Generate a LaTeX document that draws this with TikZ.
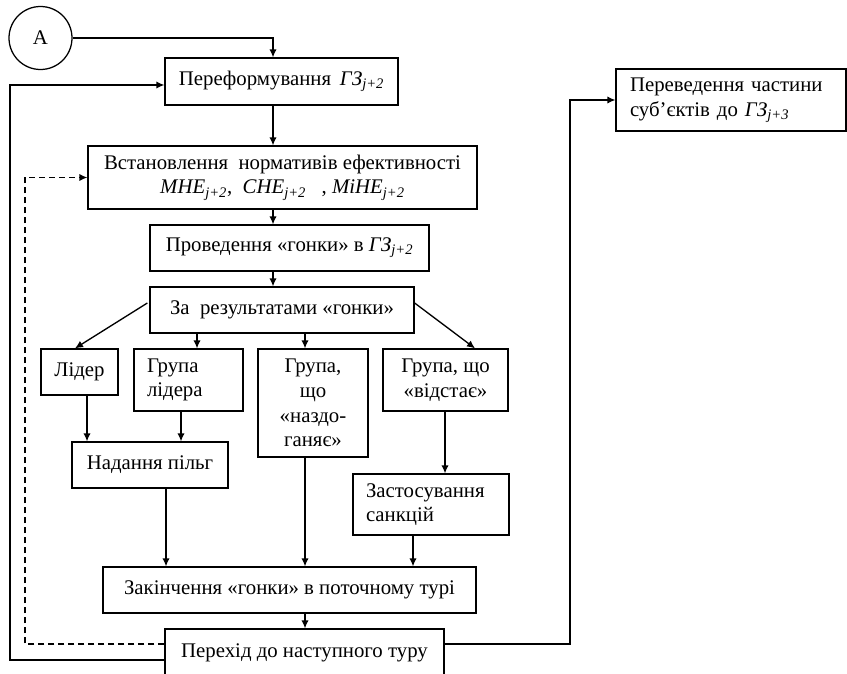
\documentclass[tikz,border=0pt]{standalone}
\usepackage{fontspec}
\setmainfont{Liberation Serif}
\usetikzlibrary{arrows.meta}
\newcommand\mysub[1]{\textsubscript{\itshape #1}}
\begin{document}
\begin{tikzpicture}[x=0.75pt,y=-0.75pt,
  box/.style={draw, line width=0.95pt, inner sep=0pt, align=center,
    font=\fontsize{15.6pt}{18.5pt}\selectfont},
  lbox/.style={box, align=left},
  arr/.style={line width=1pt, -{Latex[length=6pt,width=5.5pt]}}]
\useasboundingbox (0,0) rectangle (847,674);
\clip (0,0) rectangle (847,674);
\node[box, circle, minimum size=47.25pt] (A) at (40.5,38) {А};
\node[box, minimum width=174.75pt, minimum height=35.25pt] (P1) at (281.5,81.5)
  {Переформування \,\textit{ГЗ}\mysub{j+2}};
\node[box, minimum width=291.75pt, minimum height=47.25pt] (P2) at (282.5,177.5)
  {Встановлення \ нормативів ефективності\\
   \textit{МНЕ}\mysub{j+2}, \ \textit{СНЕ}\mysub{j+2} \ \ , \textit{МіНЕ}\mysub{j+2}};
\node[box, minimum width=209.25pt, minimum height=34.5pt] (P3) at (289.5,248)
  {Проведення «гонки» в \textit{ГЗ}\mysub{j+2}};
\node[box, minimum width=198pt, minimum height=34.5pt] (P4) at (282,310)
  {За \ результатами «гонки»};
\node[box, minimum width=57.75pt, minimum height=34.5pt] (L) at (79.5,372) {Лідер};
\node[lbox, text width=62.25pt, inner xsep=9.75pt, minimum height=46.5pt] (GL) at (188.5,380)
  {Група\\лідера};
\node[box, minimum width=82.5pt, minimum height=81pt] (GN) at (313,403)
  {Група,\\що\\«наздо-\\ганяє»};
\node[box, minimum width=93.75pt, minimum height=46.5pt] (GV) at (445.5,380)
  {Група, що\\«відстає»};
\node[box, minimum width=117pt, minimum height=34.5pt] (N) at (150,465) {Надання пільг};
\node[lbox, text width=97.5pt, inner xsep=9.75pt, minimum height=45.75pt] (Z) at (431,504.5)
  {Застосування\\санкцій};
\node[box, minimum width=279.75pt, minimum height=34.5pt] (K) at (289.5,590)
  {Закінчення «гонки» в поточному турі};
\node[box, minimum width=209.25pt, minimum height=35.25pt] (PH) at (304.5,652.5)
  {Перехід до наступного туру};
\node[lbox, text width=151.5pt, inner xsep=10.5pt, minimum height=46.5pt] (T) at (731,100)
  {Переведення частини\\суб’єктів до \textit{ГЗ}\mysub{j+3}};
% helper coordinates
\coordinate (c273) at (273,0);
\coordinate (lb) at (10,660);
\coordinate (lt) at (10,85);
\coordinate (db) at (25,644);
\coordinate (dt) at (25,177.5);
\coordinate (rb) at (570,644);
\coordinate (rt) at (570,100);
% connectors
\draw[arr] (A.east) -| (P1.north -| c273);
\draw[arr] (P1.south -| c273) -- (P2.north -| c273);
\draw[arr] (P2.south -| c273) -- (P3.north -| c273);
\draw[arr] (P3.south -| c273) -- (P4.north -| c273);
\draw[arr] ([shift={(-2,-7)}]P4.west) -- ([shift={(-4.5,0)}]L.north);
\draw[arr] ([shift={(-85,0)}]P4.south) -- ([shift={(8.5,0)}]GL.north);
\draw[arr] ([shift={(23,0)}]P4.south) -- ([shift={(-8,0)}]GN.north);
\draw[arr] ([shift={(0,-7)}]P4.east) -- ([shift={(29.5,0)}]GV.north);
\draw[arr] ([shift={(7.5,0)}]L.south) -- ([shift={(-63,0)}]N.north);
\draw[arr] ([shift={(-7.5,0)}]GL.south) -- ([shift={(31,0)}]N.north);
\draw[arr] ([shift={(-0.5,0)}]GV.south) -- ([shift={(14,0)}]Z.north);
\draw[arr] ([shift={(16,0)}]N.south) -- ([shift={(-123.5,0)}]K.north);
\draw[arr] ([shift={(-8,0)}]GN.south) -- ([shift={(15.5,0)}]K.north);
\draw[arr] ([shift={(-18,0)}]Z.south) -- ([shift={(123.5,0)}]K.north);
\draw[arr] ([shift={(15.5,0)}]K.south) -- ([shift={(0.5,0)}]PH.north);
\draw[arr] (PH.west |- lb) -- (lb) -- (lt) -- (P1.west |- lt);
\draw[arr, dash pattern=on 4.5pt off 3pt] (PH.west |- db) -- (db) -- (dt) -- (P2.west);
\draw[arr] (PH.east |- rb) -- (rb) -- (rt) -- (T.west);
\end{tikzpicture}
\end{document}
